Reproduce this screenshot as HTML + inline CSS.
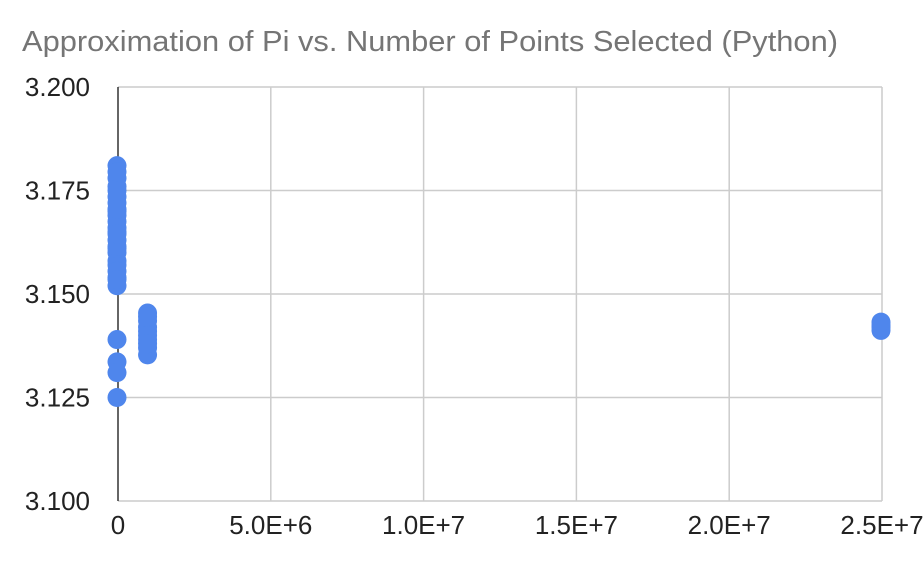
<!DOCTYPE html>
<html><head><meta charset="utf-8"><style>
body{margin:0;background:#fff;width:924px;height:558px;overflow:hidden;font-family:"Liberation Sans",Arial,sans-serif}
</style></head><body>
<svg id="c" width="924" height="558">
<text x="22" y="51" font-size="29" fill="#757575" textLength="816" lengthAdjust="spacingAndGlyphs">Approximation of Pi vs. Number of Points Selected (Python)</text>
<g id="grid"></g><g id="pts"></g>
</svg>
<script>
const xTicks=[0,5e6,1e7,1.5e7,2e7,2.5e7];
const xTickLabels=["0","5.0E+6","1.0E+7","1.5E+7","2.0E+7","2.5E+7"];
const yTicks=[3.1,3.125,3.15,3.175,3.2];
const yTickLabels=["3.100","3.125","3.150","3.175","3.200"];
const pointsN=[0,0,0,0,0,0,0,0,0,0,0,0,0,0,0,0,0,0,0,0,0,0,0,0,0,0,0,0,1e6,1e6,1e6,1e6,1e6,1e6,1e6,1e6,1e6,1e6,2.5e7,2.5e7,2.5e7,2.5e7];
const piValues=[3.181,3.178,3.175,3.172,3.169,3.166,3.163,3.160,3.157,3.154,3.152,3.170,3.165,3.158,3.139,3.1336,3.131,3.125,3.176,3.161,3.1795,3.1735,3.1675,3.1615,3.1555,3.1535,3.1705,3.1645,3.1454,3.1435,3.141,3.139,3.137,3.1353,3.142,3.140,3.1445,3.138,3.1412,3.1425,3.142,3.1432];
const X=v=>118+v/2.5e7*764;
const Y=v=>501-(v-3.1)/0.1*414;
const ns="http://www.w3.org/2000/svg";
const g=document.getElementById('grid'),p=document.getElementById('pts');
function mk(t,a,par){const e=document.createElementNS(ns,t);for(const k in a)e.setAttribute(k,a[k]);par.appendChild(e);return e;}
yTicks.forEach((v,i)=>{
 const l=mk('line',{x1:118,x2:882,y1:Y(v),y2:Y(v),stroke:'#ccc','stroke-width':1.5},g);
 
 
 const t=mk('text',{x:90,y:Y(v)+9,'font-size':26,fill:'#222','text-anchor':'end'},g);
 t.textContent=yTickLabels[i];
 
 
});
xTicks.forEach((v,i)=>{
 if(i>0){const l=mk('line',{x1:X(v),x2:X(v),y1:87,y2:501,stroke:'#ccc','stroke-width':1.5},g);
 
 }
 const t=mk('text',{x:X(v),y:534,'font-size':26,fill:'#222','text-anchor':'middle'},g);
 t.textContent=xTickLabels[i];
 
 
});
const ax=mk('line',{x1:118,x2:118,y1:87,y2:501,stroke:'#333','stroke-width':1.5},g);


pointsN.forEach((n,i)=>{
 const c=mk('circle',{cx:X(n)-1,cy:Y(piValues[i]),r:9.5,fill:'#4f86ec'},p);
 
 
});
</script>
</body></html>
